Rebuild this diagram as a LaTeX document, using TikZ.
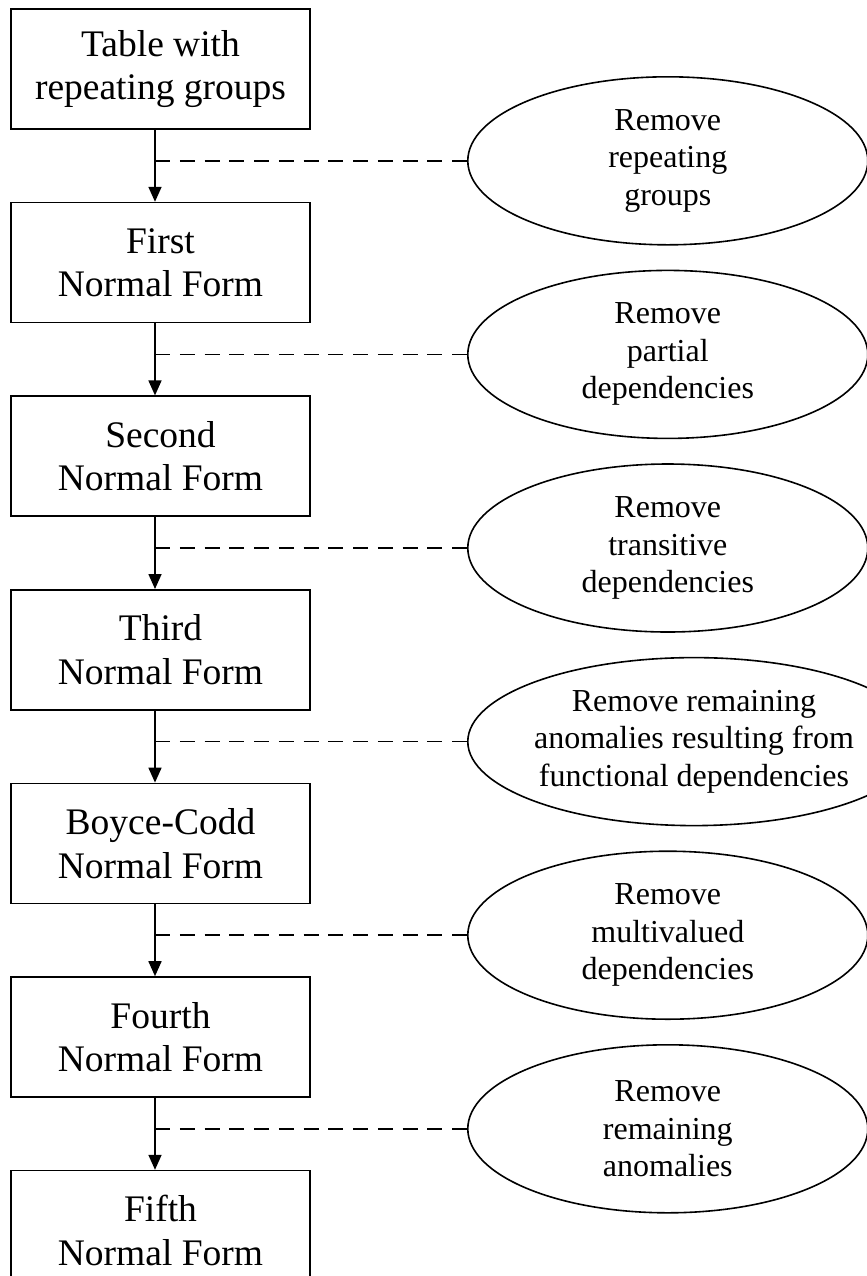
\documentclass[tikz,border=0pt]{standalone}
\usepackage{fontspec}
\setmainfont{Liberation Serif}
\usetikzlibrary{positioning,arrows.meta,shapes.geometric}

\begin{document}
\begin{tikzpicture}[
  form/.style={draw=black, line width=0.8pt, minimum width=149.5pt, minimum height=60pt,
    align=center, font=\fontsize{18.75}{21.8}\selectfont, inner sep=0pt},
  ell/.style={draw=black, line width=0.8pt, ellipse, minimum width=200pt, minimum height=84pt,
    align=center, font=\fontsize{16}{18.75}\selectfont, inner sep=0pt, anchor=west},
  flow/.style={-{Triangle[length=7.5pt,width=6.5pt]}, line width=0.8pt},
  link/.style={line width=0.8pt, dash pattern=on 7.5pt off 4.875pt}
]
\useasboundingbox (0,0) rectangle (433.5pt,-638pt);

\node[form] (b1) at (80.25pt,-34.5pt) {Table with\\repeating groups};
\node[form, below=36pt of b1] (b2) {First\\Normal Form};
\node[form, below=36pt of b2] (b3) {Second\\Normal Form};
\node[form, below=36pt of b3] (b4) {Third\\Normal Form};
\node[form, below=36pt of b4] (b5) {Boyce-Codd\\Normal Form};
\node[form, below=36pt of b5] (b6) {Fourth\\Normal Form};
\node[form, below=36pt of b6] (b7) {Fifth\\Normal Form};

\node[ell] (e1) at ([xshift=153.25pt,yshift=-15.5pt]b1.south) {Remove\\repeating\\groups};
\node[ell] (e2) at ([xshift=153.25pt,yshift=-15.5pt]b2.south) {Remove\\partial\\dependencies};
\node[ell] (e3) at ([xshift=153.25pt,yshift=-15.5pt]b3.south) {Remove\\transitive\\dependencies};
\node[ell] (e4) at ([xshift=153.25pt,yshift=-15.5pt]b4.south) {Remove remaining\\anomalies resulting from\\functional dependencies};
\node[ell] (e5) at ([xshift=153.25pt,yshift=-15.5pt]b5.south) {Remove\\multivalued\\dependencies};
\node[ell] (e6) at ([xshift=153.25pt,yshift=-15.5pt]b6.south) {Remove\\remaining\\anomalies};

% arrows sit a little left of the box centres
\draw[flow] ([xshift=-2.75pt]b1.south) -- ([xshift=-2.75pt]b2.north);
\draw[flow] ([xshift=-2.75pt]b2.south) -- ([xshift=-2.75pt]b3.north);
\draw[flow] ([xshift=-2.75pt]b3.south) -- ([xshift=-2.75pt]b4.north);
\draw[flow] ([xshift=-2.75pt]b4.south) -- ([xshift=-2.75pt]b5.north);
\draw[flow] ([xshift=-2.75pt]b5.south) -- ([xshift=-2.75pt]b6.north);
\draw[flow] ([xshift=-2.75pt]b6.south) -- ([xshift=-2.75pt]b7.north);

\draw[link] ([xshift=-2.75pt]e1.west -| b1.south) -- (e1.west);
\draw[link] ([xshift=-2.75pt]e2.west -| b2.south) -- (e2.west);
\draw[link] ([xshift=-2.75pt]e3.west -| b3.south) -- (e3.west);
\draw[link] ([xshift=-2.75pt]e4.west -| b4.south) -- (e4.west);
\draw[link] ([xshift=-2.75pt]e5.west -| b5.south) -- (e5.west);
\draw[link] ([xshift=-2.75pt]e6.west -| b6.south) -- (e6.west);
\end{tikzpicture}
\end{document}
